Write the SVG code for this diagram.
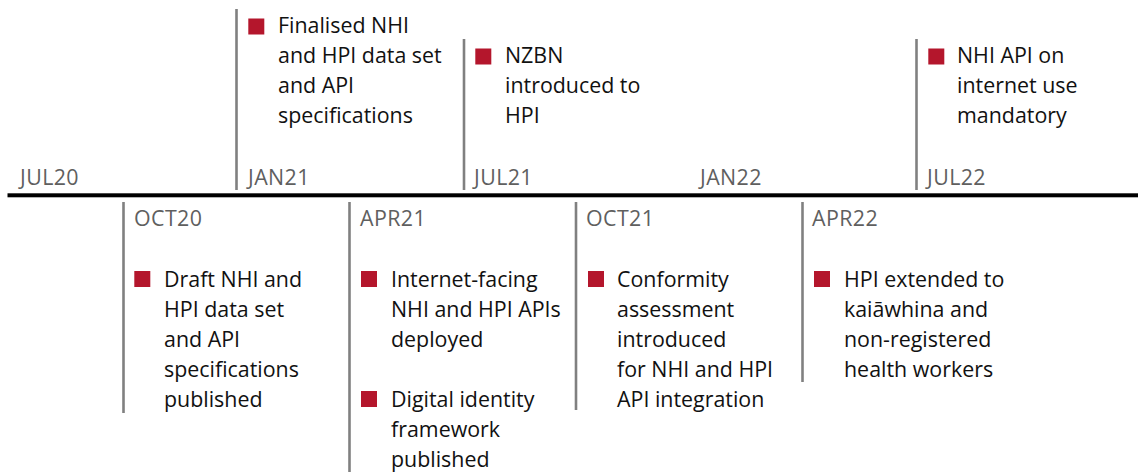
<svg xmlns="http://www.w3.org/2000/svg" width="1138" height="472" viewBox="0 0 1138 472">
<style>
.t{font-family:"Open Sans","Noto Sans","Liberation Sans",sans-serif;font-size:21.4px;fill:#111}
.d{font-family:"Open Sans","Noto Sans","Liberation Sans",sans-serif;font-size:21.4px;letter-spacing:0.4px;fill:#5f5f5f}
.tick{stroke:#808080;stroke-width:2.6;fill:none}
.b{fill:#b4162c}
</style>
<rect x="7.5" y="193.3" width="1131" height="4" fill="#000"/>
<g id="connectors">
<line class="tick" x1="236.5" y1="9" x2="236.5" y2="190"/>
<line class="tick" x1="464" y1="39" x2="464" y2="190"/>
<line class="tick" x1="916.5" y1="39" x2="916.5" y2="190"/>
<line class="tick" x1="123.5" y1="202" x2="123.5" y2="413"/>
<line class="tick" x1="349.5" y1="202" x2="349.5" y2="472"/>
<line class="tick" x1="576" y1="202" x2="576" y2="410"/>
<line class="tick" x1="802.5" y1="202" x2="802.5" y2="382"/>
</g>
<g id="dates">
<text class="d" x="20" y="185">JUL20</text>
<text class="d" x="248" y="185">JAN21</text>
<text class="d" x="474" y="185">JUL21</text>
<text class="d" x="700" y="185">JAN22</text>
<text class="d" x="927" y="185">JUL22</text>
<text class="d" x="134" y="226">OCT20</text>
<text class="d" x="360" y="226">APR21</text>
<text class="d" x="586" y="226">OCT21</text>
<text class="d" x="812" y="226">APR22</text>
</g>
<g id="jan21">
<rect class="b" x="248.3" y="18.5" width="16" height="16"/>
<text class="t" x="278" y="33">Finalised NHI</text>
<text class="t" x="278" y="63">and HPI data set</text>
<text class="t" x="278" y="93">and API</text>
<text class="t" x="278" y="123">specifications</text>
</g>
<g id="jul21">
<rect class="b" x="475.3" y="48.5" width="16" height="16"/>
<text class="t" x="505" y="63">NZBN</text>
<text class="t" x="505" y="93">introduced to</text>
<text class="t" x="505" y="123">HPI</text>
</g>
<g id="jul22">
<rect class="b" x="928.3" y="48.5" width="16" height="16"/>
<text class="t" x="957" y="63">NHI API on</text>
<text class="t" x="957" y="93">internet use</text>
<text class="t" x="957" y="123">mandatory</text>
</g>
<g id="oct20">
<rect class="b" x="134.3" y="271" width="16" height="16"/>
<text class="t" x="164" y="287">Draft NHI and</text>
<text class="t" x="164" y="317">HPI data set</text>
<text class="t" x="164" y="347">and API</text>
<text class="t" x="164" y="377">specifications</text>
<text class="t" x="164" y="407">published</text>
</g>
<g id="apr21">
<rect class="b" x="361" y="271" width="16" height="16"/>
<text class="t" x="391" y="287">Internet-facing</text>
<text class="t" x="391" y="317">NHI and HPI APIs</text>
<text class="t" x="391" y="347">deployed</text>
<rect class="b" x="361" y="391" width="16" height="16"/>
<text class="t" x="391" y="407">Digital identity</text>
<text class="t" x="391" y="437">framework</text>
<text class="t" x="391" y="467">published</text>
</g>
<g id="oct21">
<rect class="b" x="588" y="271" width="16" height="16"/>
<text class="t" x="617" y="287">Conformity</text>
<text class="t" x="617" y="317">assessment</text>
<text class="t" x="617" y="347">introduced</text>
<text class="t" x="617" y="377">for NHI and HPI</text>
<text class="t" x="617" y="407">API integration</text>
</g>
<g id="apr22">
<rect class="b" x="814" y="271" width="16" height="16"/>
<text class="t" x="844" y="287">HPI extended to</text>
<text class="t" x="844" y="317">kaiāwhina and</text>
<text class="t" x="844" y="347">non-registered</text>
<text class="t" x="844" y="377">health workers</text>
</g>
</svg>
